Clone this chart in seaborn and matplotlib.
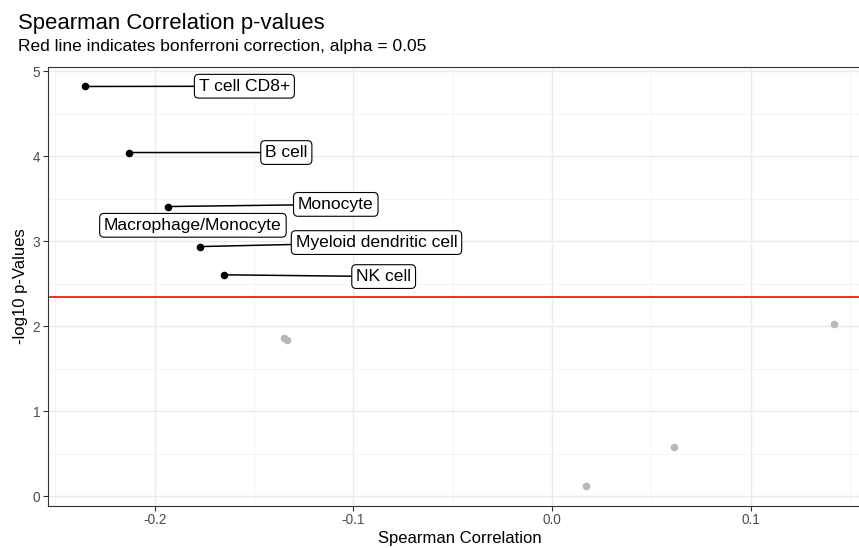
import matplotlib
matplotlib.use("Agg")
import matplotlib.pyplot as plt
import seaborn as sns
import pandas as pd

# ---- data ----
cell_types = ["T cell CD8+", "B cell", "Monocyte", "Macrophage/Monocyte",
              "Myeloid dendritic cell", "NK cell",
              "other 1", "other 2", "other 3", "other 4", "other 5"]
spearman = [-0.235, -0.2128, -0.1933, -0.186, -0.1771, -0.1653,
            -0.1348, -0.1335, 0.0171, 0.0615, 0.142]
neglog10p = [4.818, 4.041, 3.406, 3.19, 2.935, 2.603,
             1.855, 1.835, 0.122, 0.579, 2.025]
significant = [True, True, True, True, True, True,
               False, False, False, False, False]
bonferroni_line = 2.342

# label anchor positions (layout, data units) for the significant ones
label_x = [-0.1549, -0.1338, -0.1089, -0.1808, -0.0884, -0.0848]
label_y = [4.821, 4.041, 3.431, 3.185, 2.982, 2.582]
draw_segment = [True, True, True, False, True, True]

df = pd.DataFrame({"cell": cell_types, "rho": spearman,
                   "p": neglog10p, "sig": significant})

sns.set_theme(style="white")
plt.rcParams["font.family"] = ["Liberation Sans", "DejaVu Sans"]

W, H = 859, 548
fig = plt.figure(figsize=(W / 100, H / 100), dpi=100)
left, right, top, bottom = 47.7, 872.0, 66.5, 505.7
ax = fig.add_axes([left / W, (H - bottom) / H, (right - left) / W, (bottom - top) / H])

ax.set_xlim(-0.2539, 0.161)
ax.set_ylim(-0.113, 5.053)

# grid
ax.set_xticks([-0.2, -0.1, 0.0, 0.1])
ax.set_xticklabels(["-0.2", "-0.1", "0.0", "0.1"])
ax.set_xticks([-0.25, -0.15, -0.05, 0.05, 0.15], minor=True)
ax.set_yticks([0, 1, 2, 3, 4, 5])
ax.set_yticklabels(["0", "1", "2", "3", "4", "5"])
ax.set_yticks([0.5, 1.5, 2.5, 3.5, 4.5], minor=True)
ax.grid(which="major", color="#EBEBEB", linewidth=1.05)
ax.grid(which="minor", color="#F3F3F3", linewidth=0.6)
ax.set_axisbelow(True)

for s in ax.spines.values():
    s.set_color("#333333")
    s.set_linewidth(0.8)

ax.tick_params(which="major", direction="out", length=3.3, width=0.8,
               color="#333333", labelcolor="#4D4D4D", labelsize=9.8, pad=2.2,
               bottom=True, left=True)
ax.tick_params(which="minor", length=0)

# bonferroni line
ax.axhline(bonferroni_line, color="#FF2A2A", linewidth=1.4, zorder=2)

# points
sns.scatterplot(data=df[~df["sig"]], x="rho", y="p", ax=ax, color="#B8B8B8",
                s=30, linewidth=0, zorder=3, legend=False)
sns.scatterplot(data=df[df["sig"]], x="rho", y="p", ax=ax, color="black",
                s=30, linewidth=0, zorder=3, legend=False)

# labels
sig_df = df[df["sig"]].reset_index(drop=True)
for i, row in sig_df.iterrows():
    bbox = dict(boxstyle="round,pad=0.25,rounding_size=0.25", fc="white",
                ec="black", lw=0.8)
    if draw_segment[i]:
        ax.annotate(row["cell"], xy=(row["rho"], row["p"]),
                    xytext=(label_x[i], label_y[i]), ha="center", va="center",
                    fontsize=12.6, color="black", bbox=bbox, zorder=5,
                    arrowprops=dict(arrowstyle="-", color="black", lw=1.1,
                                    shrinkA=0, shrinkB=0))
    else:
        ax.text(label_x[i], label_y[i], row["cell"], ha="center", va="center",
                fontsize=12.6, color="black", bbox=bbox, zorder=5)

ax.set_xlabel("Spearman Correlation", fontsize=12, color="black")
ax.set_ylabel("-log10 p-Values", fontsize=12, color="black", labelpad=3)
ax.xaxis.set_label_coords((460 - left) / (right - left), -0.058)
ax.xaxis.label.set_va("top")

fig.text(18 / W, 1 - 29.5 / H, "Spearman Correlation p-values", fontsize=15.9,
         color="black", ha="left", va="baseline")
fig.text(18 / W, 1 - 51.5 / H, "Red line indicates bonferroni correction, alpha = 0.05",
         fontsize=12.5, color="black", ha="left", va="baseline")

fig.savefig("out.png", dpi=100)
